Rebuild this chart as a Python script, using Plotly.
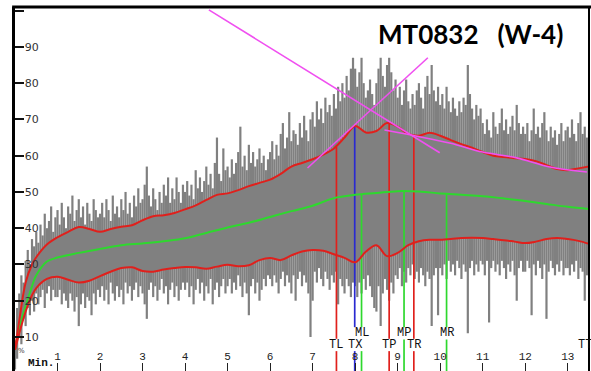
import plotly.graph_objects as go

# ---- raw signal: spike extents per 0.05-minute sample (% scale) ----
sample_step = 0.05
spike_hi = [
    9, 18, 22, 27, 25, 31, 34, 30, 37, 35, 39, 36, 41, 38, 44, 40, 42, 46, 39, 43,
    45, 41, 47, 43, 40, 46, 44, 49, 42, 45, 48, 43, 46, 41, 47, 44, 42, 48, 45, 43,
    44, 47, 43, 48, 45, 42, 49, 44, 46, 43, 48, 45, 50, 44, 47, 43, 49, 46, 51, 47,
    48, 52, 57, 49, 46, 51, 48, 45, 50, 47, 52, 49, 54, 47, 51, 48, 54, 50, 47, 52,
    50, 53, 49, 52, 48, 56, 51, 54, 50, 53, 57, 52, 55, 51, 58, 65, 55, 53, 62, 56,
    57, 54, 59, 55, 58, 61, 68, 57, 60, 56, 63, 58, 61, 57, 59, 62, 58, 60, 56, 59,
    61, 64, 59, 63, 60, 66, 69, 62, 65, 72, 64, 67, 66, 63, 69, 65, 71, 67, 64, 70,
    72, 68, 75, 70, 73, 69, 76, 72, 74, 71, 77, 73, 79, 75, 80, 76, 82, 78, 84, 87,
    84, 79, 83, 87, 80, 76, 78, 81, 77, 74, 80, 84, 87, 82, 79, 85, 87, 83, 78, 81,
    76, 79, 74, 78, 81, 75, 73, 77, 74, 78, 80, 76, 73, 79, 82, 77, 85, 78, 75, 79,
    74, 77, 73, 79, 75, 72, 76, 73, 71, 75, 72, 76, 74, 85, 77, 73, 70, 74, 71, 73,
    69, 66, 70, 67, 65, 72, 68, 66, 69, 73, 67, 70, 66, 68, 71, 67, 74, 69, 66, 68,
    66, 69, 64, 67, 73, 66, 68, 65, 69, 72, 67, 64, 68, 65, 67, 63, 66, 69, 64, 67,
    68, 65, 70, 66, 64, 69, 72, 66, 68, 65, 67,
]
spike_lo = [
    1, 4, 10, 8, 15, 13, 18, 16, 20, 17, 22, 19, 21, 23, 18, 22, 24, 20, 23, 21,
    21, 23, 19, 22, 20, 18, 22, 20, 17, 21, 13, 19, 22, 18, 21, 20, 16, 22, 19, 23,
    21, 24, 20, 23, 19, 25, 22, 20, 24, 21, 23, 19, 25, 22, 24, 20, 23, 25, 21, 24,
    22, 19, 15, 23, 25, 21, 24, 20, 23, 26, 22, 24, 19, 23, 25, 21, 24, 20, 23, 25,
    23, 25, 21, 24, 19, 23, 26, 22, 25, 20, 24, 22, 26, 19, 23, 25, 21, 24, 26, 22,
    24, 26, 22, 25, 23, 27, 24, 21, 25, 22, 16, 24, 26, 22, 25, 20, 23, 26, 24, 27,
    26, 24, 27, 25, 22, 26, 28, 24, 27, 25, 22, 27, 20, 26, 28, 24, 27, 25, 22, 10,
    20, 28, 25, 29, 26, 24, 28, 26, 23, 27, 25, 28, 19, 26, 24, 22, 26, 24, 21, 25,
    24, 21, 25, 22, 26, 23, 27, 24, 21, 18, 17, 24, 13, 22, 26, 23, 20, 25, 22, 27,
    26, 29, 24, 28, 25, 29, 27, 30, 26, 28, 25, 29, 27, 24, 28, 26, 13, 27, 29, 16,
    29, 27, 30, 26, 31, 28, 30, 27, 31, 29, 26, 30, 28, 11, 29, 31, 27, 30, 28, 31,
    30, 27, 31, 14, 29, 31, 28, 30, 27, 31, 29, 26, 30, 28, 31, 27, 20, 29, 31, 28,
    28, 31, 29, 16, 30, 27, 31, 29, 26, 30, 15, 28, 31, 29, 27, 30, 28, 31, 27, 29,
    29, 27, 30, 28, 31, 26, 29, 28, 20, 27, 29,
]
sample_t = [round(i * sample_step, 3) for i in range(len(spike_hi))]

# ---- envelopes (upper / lower) ----
env_t = [0, 0.1, 0.25, 0.4, 0.5, 0.75, 1.0, 1.25, 1.5, 1.75, 2.0, 2.25, 2.5, 2.75,
         3.0, 3.25, 3.5, 3.75, 4.0, 4.25, 4.5, 4.75, 5.0, 5.25, 5.5, 5.75, 6.0,
         6.25, 6.5, 6.75, 7.0, 7.25, 7.5, 7.75, 8.0, 8.25, 8.5, 8.75, 9.0, 9.25,
         9.5, 9.75, 10.0, 10.25, 10.5, 10.75, 11.0, 11.25, 11.5, 11.75, 12.0,
         12.25, 12.5, 12.75, 13.0, 13.25, 13.5]
env_upper = [6.5, 14.5, 25, 30, 32, 35.5, 37.5, 39, 40.3, 39.8, 39, 39.8, 40.4, 40.8,
             42.2, 43.3, 43.6, 44.2, 45.2, 46.3, 47.8, 49.2, 49.6, 50.5, 51.6, 52.5,
             53.4, 55, 57, 58, 59, 60.3, 62, 65, 68.2, 66.4, 66.8, 69, 68, 66, 65.5,
             66.3, 65.5, 64.3, 63.2, 62.2, 61, 60, 59.6, 59.3, 59.1, 58.5, 57.4, 56.3,
             56, 56.5, 57]
env_lower = [6.5, 11, 17, 21.5, 23.5, 26, 26.6, 25.8, 25, 25.5, 26.8, 28, 29, 29.2,
             28.2, 28, 28.6, 29, 29.3, 29.2, 28.8, 29.4, 29.9, 29.5, 29.8, 31.2, 31.8,
             31.2, 32.5, 33.6, 34, 33.8, 32.8, 31.8, 30.6, 33.5, 35.3, 32.3, 33.2,
             35.3, 36.4, 36.8, 36.8, 37, 37.3, 37.4, 37.3, 37, 36.7, 36.3, 35.9, 36.3,
             37, 37.3, 37, 36.5, 35.7]

# ---- running mean ----
mean_t = [0, 0.1, 0.25, 0.4, 0.5, 0.75, 1.0, 1.5, 2.0, 2.5, 3.0, 3.5, 4.0, 4.5, 5.0,
          5.5, 6.0, 6.5, 7.0, 7.5, 8.0, 8.5, 9.0, 9.5, 10.0, 10.5, 11.0, 11.5, 12.0,
          12.5, 13.0, 13.5]
mean_v = [6.5, 12.5, 18.5, 24, 27, 30.8, 31.9, 33.2, 34.3, 35.3, 35.8, 36.4, 37.2,
          38.7, 40.2, 41.5, 43.1, 44.7, 46.2, 48.3, 49.2, 49.7, 50.2, 50.1, 49.6,
          49.2, 48.8, 48.2, 47.5, 46.7, 45.9, 45.3]

# ---- fitted trend lines ----
fit_down_t, fit_down_v = [4.56, 9.99], [100.2, 60.8]
fit_up_t, fit_up_v = [6.88, 9.71], [56.6, 87.0]
fit_tail_t = [8.69, 10.22, 11.0, 11.8, 12.58, 13.45]
fit_tail_v = [67.1, 63.5, 61.0, 59.4, 56.9, 55.5]

# ---- event markers ----
marker_names = ["TL", "TX", "ML", "TP", "MP", "TR", "MR", "TT"]
marker_t = [7.56, 7.99, 8.15, 8.80, 9.15, 9.38, 10.15, 13.40]
marker_top = [62.4, 68.0, 49.3, 69.3, 50.3, 65.2, 49.4, None]
marker_color = ["#e0201c", "#2a2ad0", "#2ed82e", "#e0201c", "#2ed82e", "#e0201c",
                "#2ed82e", None]

x_ticks = list(range(1, 14))
y_ticks = [10, 20, 30, 40, 50, 60, 70, 80, 90, 100]
y_ticktext = ["10", "20", "30", "40", "50", "60", "70", "80", "90", ""]

RED = "#e0201c"
GREEN = "#2ed82e"
MAGENTA = "#f050f0"
GRAY = "#808080"

# label rows (y level) and their half extents, in axis units
ROW_M, ROW_T = 11.0, 7.8
ROW_HALF_H = 1.7
LABEL_HALF_W = 0.19


def label_row(name):
    return ROW_M if name.startswith("M") else ROW_T


fig = go.Figure()

# solid body between the envelopes
fig.add_trace(go.Scatter(x=env_t, y=env_lower, mode="lines", line=dict(width=0, shape="spline"),
                         hoverinfo="skip"))
fig.add_trace(go.Scatter(x=env_t, y=env_upper, mode="lines", line=dict(width=0, shape="spline"),
                         fill="tonexty", fillcolor=GRAY, hoverinfo="skip"))

# vertical spikes of the raw signal
sx, sy = [], []
for t, lo, hi in zip(sample_t, spike_lo, spike_hi):
    sx += [t, t, None]
    sy += [lo, hi, None]
fig.add_trace(go.Scatter(x=sx, y=sy, mode="lines", line=dict(color=GRAY, width=2.2),
                         hoverinfo="skip"))

# event marker lines, interrupted where a label sits on them
for name, t, top, col in zip(marker_names, marker_t, marker_top, marker_color):
    if top is None:
        continue
    gaps = []
    for other, ot in zip(marker_names, marker_t):
        if abs(ot - t) < LABEL_HALF_W:
            r = label_row(other)
            gaps.append([r - ROW_HALF_H, r + ROW_HALF_H])
    gaps.sort()
    merged = []
    for g in gaps:
        if merged and g[0] <= merged[-1][1]:
            merged[-1][1] = max(merged[-1][1], g[1])
        else:
            merged.append(list(g))
    xs, ys, start = [], [], 0
    for g0, g1 in merged:
        xs += [t, t, None]
        ys += [start, g0, None]
        start = g1
    xs += [t, t]
    ys += [start, top]
    fig.add_trace(go.Scatter(x=xs, y=ys, mode="lines",
                             line=dict(color=col, width=1.7), hoverinfo="skip"))

# mean and envelopes
fig.add_trace(go.Scatter(x=mean_t, y=mean_v, mode="lines",
                         line=dict(color=GREEN, width=2, shape="spline")))
fig.add_trace(go.Scatter(x=env_t, y=env_upper, mode="lines",
                         line=dict(color=RED, width=2, shape="spline")))
fig.add_trace(go.Scatter(x=env_t, y=env_lower, mode="lines",
                         line=dict(color=RED, width=2, shape="spline")))

# trend lines
for tx, tv, shp in [(fit_down_t, fit_down_v, "linear"), (fit_up_t, fit_up_v, "linear"),
                    (fit_tail_t, fit_tail_v, "spline")]:
    fig.add_trace(go.Scatter(x=tx, y=tv, mode="lines",
                             line=dict(color=MAGENTA, width=1.6, shape=shp)))

# marker labels
for name, t in zip(marker_names, marker_t):
    fig.add_annotation(x=t, y=label_row(name), text=name, showarrow=False,
                       xanchor="center", yanchor="middle",
                       font=dict(family="Liberation Mono", size=12, color="#111"))

fig.add_annotation(x=0.15, y=6.2, text="%", showarrow=False,
                   font=dict(family="DejaVu Sans", size=7, color="#333"))
fig.add_annotation(x=0.62, y=2.9, text="<b>Min.</b>", showarrow=False,
                   yanchor="middle",
                   font=dict(family="Liberation Mono", size=11, color="#111"))

fig.add_annotation(xref="paper", yref="paper", x=0.793, y=0.926,
                   text="<b>MT0832\u00a0\u00a0\u00a0(W-4)</b>", showarrow=False,
                   xanchor="center", yanchor="middle",
                   font=dict(family="Lato", size=26, color="black"))

# frame: top and right borders
fig.add_shape(type="line", xref="paper", yref="paper", x0=-0.005, x1=1.01, y0=1, y1=1,
              line=dict(color="black", width=3))
fig.add_shape(type="line", xref="paper", yref="paper", x0=1, x1=1, y0=0, y1=1,
              line=dict(color="black", width=2))

fig.update_layout(
    width=591, height=371,
    margin=dict(l=15, r=2, t=7, b=0),
    paper_bgcolor="white", plot_bgcolor="white",
    showlegend=False,
    xaxis=dict(range=[0, 13.5], tickvals=x_ticks, ticks="inside", ticklen=8,
               tickwidth=1, tickcolor="#222", ticklabelposition="inside",
               tickfont=dict(family="Liberation Mono", size=11, color="#222"),
               showgrid=False, zeroline=False, showline=False),
    yaxis=dict(range=[0.62, 101], tickvals=y_ticks, ticktext=y_ticktext,
               ticks="inside", ticklen=9, tickwidth=1.5, tickcolor="#111",
               ticklabelposition="inside",
               tickfont=dict(family="DejaVu Sans", size=11, color="#333"),
               showgrid=False, zeroline=False, showline=True, linecolor="black",
               linewidth=3),
)

fig.write_html("out.html")
